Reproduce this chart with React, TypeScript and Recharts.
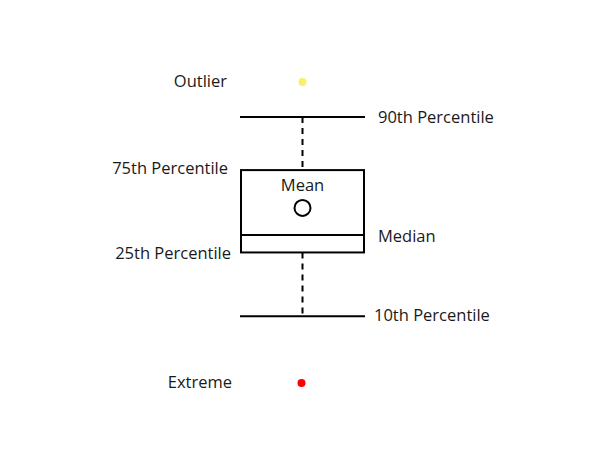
import * as React from "react";
import { ComposedChart, Bar, XAxis, YAxis } from "recharts";

// one illustrative box, values on a 0-100 scale
const categories = ["Legend"];
const outliers = [81.8];
const p90 = [74.0];
const p75 = [62.2];
const means = [53.8];
const medians = [47.8];
const p25 = [43.9];
const p10 = [29.7];
const extremes = [14.9];

const labels = {
  outlier: "Outlier",
  p90: "90th Percentile",
  p75: "75th Percentile",
  mean: "Mean",
  median: "Median",
  p25: "25th Percentile",
  p10: "10th Percentile",
  extreme: "Extreme",
};

const data = categories.map((name, i) => ({
  name,
  outlier: outliers[i],
  p90: p90[i],
  p75: p75[i],
  mean: means[i],
  median: medians[i],
  p25: p25[i],
  p10: p10[i],
  extreme: extremes[i],
}));

const FONT = "'Open Sans', sans-serif";
const TEXT = "#1a1a1a";

function BoxShape(props: any) {
  const { x, y, width, height, payload } = props;
  const top = Math.min(y, y + height);
  const h = Math.abs(height);
  const k = h / (payload.p75 - payload.p25);
  const yOf = (v: number) => top + (payload.p75 - v) * k;
  const cx = x + width / 2;
  const left = x;
  const right = x + width;
  const t = { fontFamily: FONT, fontSize: 16.5, fill: TEXT } as const;

  return (
    <g>
      {/* whiskers */}
      <line x1={cx} x2={cx} y1={yOf(payload.p90)} y2={yOf(payload.p75)} stroke="#000" strokeWidth={2} strokeDasharray="6 5" />
      <line x1={cx} x2={cx} y1={yOf(payload.p25)} y2={yOf(payload.p10)} stroke="#000" strokeWidth={2} strokeDasharray="6 5" />
      <line x1={left - 1} x2={right + 1} y1={yOf(payload.p90)} y2={yOf(payload.p90)} stroke="#000" strokeWidth={2} />
      <line x1={left - 1} x2={right + 1} y1={yOf(payload.p10)} y2={yOf(payload.p10)} stroke="#000" strokeWidth={2} />
      {/* box */}
      <rect x={left} y={top} width={width} height={h} fill="#fff" stroke="#000" strokeWidth={2} />
      <line x1={left} x2={right} y1={yOf(payload.median)} y2={yOf(payload.median)} stroke="#000" strokeWidth={2} />
      <circle cx={cx} cy={yOf(payload.mean)} r={8} fill="#fff" stroke="#000" strokeWidth={2} />
      {/* points */}
      <circle cx={cx} cy={yOf(payload.outlier)} r={4} fill="#f7f06c" />
      <circle cx={cx - 1} cy={yOf(payload.extreme)} r={4} fill="#ff0000" />
      {/* labels */}
      <text {...t} x={left - 14} y={yOf(payload.outlier) + 5} textAnchor="end">{labels.outlier}</text>
      <text {...t} x={right + 14} y={yOf(payload.p90) + 6} textAnchor="start">{labels.p90}</text>
      <text {...t} x={left - 13} y={yOf(payload.p75) + 4} textAnchor="end">{labels.p75}</text>
      <text {...t} x={cx} y={yOf(payload.mean) - 17} textAnchor="middle">{labels.mean}</text>
      <text {...t} x={right + 14} y={yOf(payload.median) + 7} textAnchor="start">{labels.median}</text>
      <text {...t} x={left - 10} y={yOf(payload.p25) + 7} textAnchor="end">{labels.p25}</text>
      <text {...t} x={right + 10} y={yOf(payload.p10) + 5} textAnchor="start">{labels.p10}</text>
      <text {...t} x={left - 9} y={yOf(payload.extreme) + 5} textAnchor="end">{labels.extreme}</text>
    </g>
  );
}

export default function App() {
  return (
    <div style={{ position: "absolute", top: 0, left: 0, background: "#fff" }}>
      <ComposedChart width={600} height={450} data={data} margin={{ top: 0, right: 0, bottom: 0, left: 5 }}>
        <XAxis dataKey="name" type="category" hide />
        <YAxis type="number" domain={[0, 100]} hide />
        <Bar
          dataKey={(d: any) => [d.p25, d.p75]}
          barSize={123}
          shape={<BoxShape />}
          isAnimationActive={false}
        />
      </ComposedChart>
    </div>
  );
}
